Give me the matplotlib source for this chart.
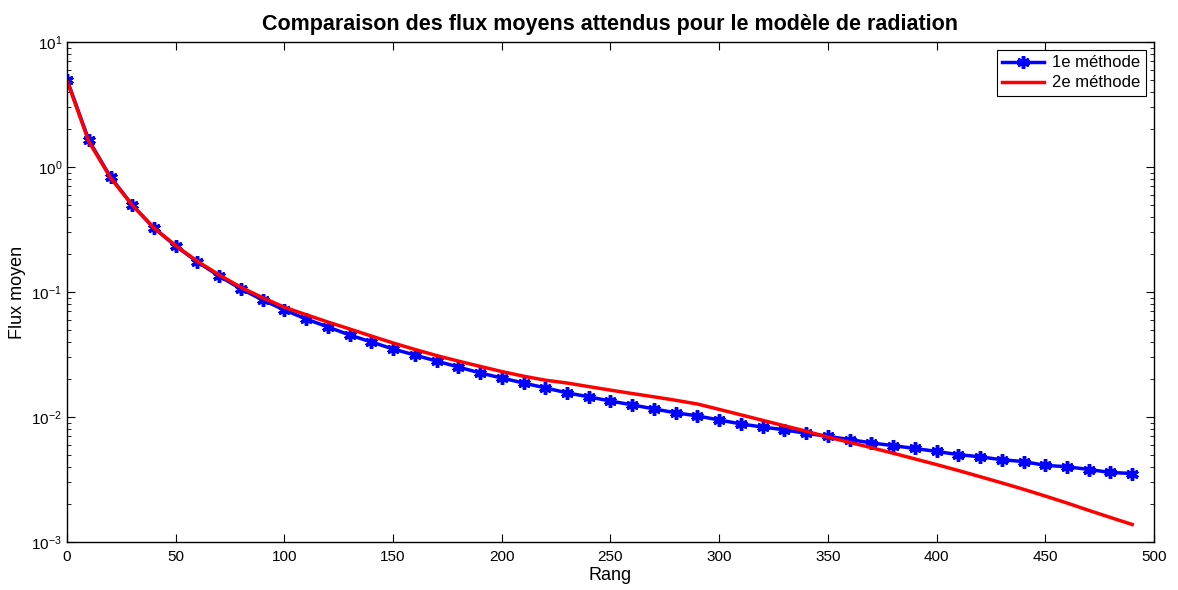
import numpy as np
import matplotlib.pyplot as plt
from matplotlib.ticker import LogLocator, NullFormatter

plt.rcParams["font.family"] = ["Liberation Sans", "DejaVu Sans"]
plt.rcParams["mathtext.fontset"] = "custom"
plt.rcParams["mathtext.rm"] = "Liberation Sans"

rang = np.arange(0, 500, 10)

# 1e methode (points tous les 10)
flux_m1 = [5.0, 1.64, 0.83, 0.497, 0.325, 0.233, 0.174, 0.134, 0.106, 0.0863,
           0.0718, 0.0608, 0.0525, 0.0453, 0.0398, 0.0350, 0.0313, 0.0280, 0.0251, 0.0225,
           0.0205, 0.0187, 0.0171, 0.0156, 0.0145, 0.0134, 0.0125, 0.0116, 0.0108, 0.0102,
           0.00946, 0.0088, 0.0083, 0.0079, 0.0074, 0.0070, 0.0066, 0.0062, 0.0059, 0.0056,
           0.0053, 0.0050, 0.0048, 0.00455, 0.0044, 0.0041, 0.0040, 0.0038, 0.0036, 0.00353]

# 2e methode
flux_m2 = [4.9, 1.60, 0.82, 0.495, 0.325, 0.235, 0.176, 0.137, 0.109, 0.090,
           0.0755, 0.0658, 0.0575, 0.0506, 0.0444, 0.0391, 0.0347, 0.0310, 0.0280, 0.0254,
           0.0231, 0.0212, 0.0197, 0.0187, 0.0175, 0.0164, 0.0154, 0.0145, 0.0136, 0.0127,
           0.0115, 0.0104, 0.0094, 0.0085, 0.0077, 0.0069, 0.00627, 0.00568, 0.00513, 0.00462,
           0.00416, 0.00373, 0.00333, 0.00297, 0.00264, 0.00233, 0.00205, 0.00179, 0.00157, 0.00138]

fig = plt.figure(figsize=(11.78, 5.90), dpi=100)
ax = fig.add_axes([0.0569, 0.0814, 0.9227, 0.8474])

ax.semilogy(rang, flux_m1, color="blue", lw=2.5, marker=(6, 2, 0), ms=9, mew=2.5,
            label="1e méthode")
ax.semilogy(rang, flux_m2, color="red", lw=2.5, label="2e méthode")

ax.set_xlim(0, 500)
ax.set_ylim(1e-3, 1e1)
ax.set_xticks(np.arange(0, 501, 50))
ax.yaxis.set_major_locator(LogLocator(base=10, numticks=10))
ax.yaxis.set_minor_locator(LogLocator(base=10, subs=np.arange(2, 10), numticks=10))
ax.yaxis.set_minor_formatter(NullFormatter())
ax.tick_params(which="both", direction="in", top=True, right=True, labelsize=11)
ax.tick_params(axis="x", pad=6)
ax.tick_params(which="major", length=6)
ax.tick_params(which="minor", length=3)
for s in ax.spines.values():
    s.set_linewidth(1.0)

ax.set_xlabel("Rang", fontsize=13, labelpad=2)
ax.set_ylabel("Flux moyen", fontsize=13)
ax.set_title("Comparaison des flux moyens attendus pour le modèle de radiation",
             fontsize=15.5, fontweight="bold", pad=9)

leg = ax.legend(loc="upper right", fontsize=12, fancybox=False, framealpha=1,
                edgecolor="black", borderaxespad=0.45, handlelength=2.5,
                labelspacing=0.3, borderpad=0.35, handletextpad=0.5)
leg.get_frame().set_linewidth(0.8)

fig.savefig("out.png", dpi=100)
